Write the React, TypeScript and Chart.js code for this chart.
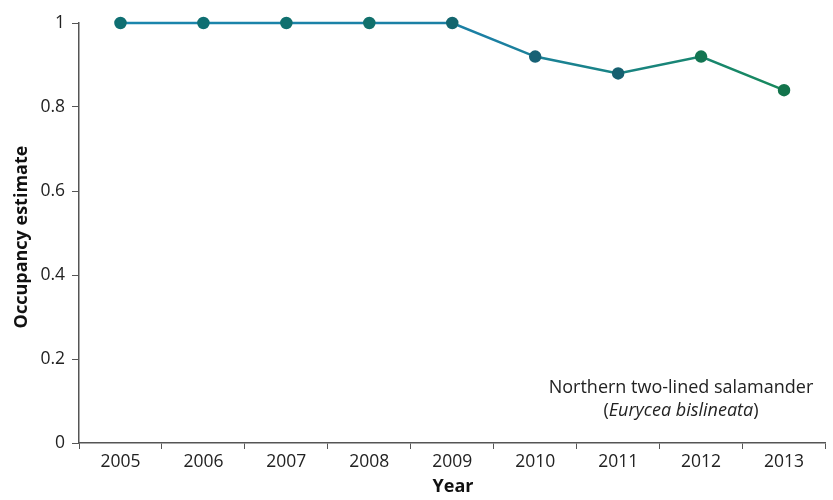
import React, { useEffect, useRef } from "react";
import { Chart, registerables } from "chart.js";

Chart.register(...registerables);

const years = ["2005", "2006", "2007", "2008", "2009", "2010", "2011", "2012", "2013"];
const occupancy = [1, 1, 1, 1, 1, 0.92, 0.88, 0.92, 0.84];
const yTicks = [0, 0.2, 0.4, 0.6, 0.8, 1];
const yTitle = "Occupancy estimate";
const xTitle = "Year";
const noteLine1 = "Northern two-lined salamander";
const noteLatin = "Eurycea bislineata";

const FONT = "'Open Sans', 'DejaVu Sans', sans-serif";

const textPlugin = {
  id: "textPlugin",
  afterDraw(chart: any) {
    const ctx = chart.ctx;
    const area = chart.chartArea;
    ctx.save();
    ctx.fillStyle = "#111";
    ctx.font = `bold 18px ${FONT}`;
    ctx.textAlign = "center";
    ctx.textBaseline = "middle";
    ctx.save();
    ctx.translate(22, (area.top + area.bottom) / 2 + 4);
    ctx.rotate(-Math.PI / 2);
    ctx.fillText(yTitle, 0, 0);
    ctx.restore();
    ctx.fillText(xTitle, 453, 487);
    ctx.fillStyle = "#222";
    ctx.font = `18px ${FONT}`;
    ctx.fillText(noteLine1, 681, 388);
    ctx.font = `italic 18px ${FONT}`;
    const w = ctx.measureText(noteLatin).width;
    ctx.font = `18px ${FONT}`;
    const wp = ctx.measureText("(").width;
    const wq = ctx.measureText(")").width;
    const x0 = 681 - (w + wp + wq) / 2;
    ctx.textAlign = "left";
    ctx.fillText("(", x0, 411);
    ctx.font = `italic 18px ${FONT}`;
    ctx.fillText(noteLatin, x0 + wp, 411);
    ctx.font = `18px ${FONT}`;
    ctx.fillText(")", x0 + wp + w, 411);
    ctx.restore();
  },
};

export default function App() {
  const ref = useRef<HTMLCanvasElement>(null);
  useEffect(() => {
    document.body.style.margin = "0";
    const canvas = ref.current!;
    const ctx = canvas.getContext("2d")!;
    const grad = ctx.createLinearGradient(120, 0, 790, 0);
    grad.addColorStop(0, "#1a86ad");
    grad.addColorStop(0.55, "#1b7fa3");
    grad.addColorStop(1, "#17895a");
    const pointColors = ["#0f6f72", "#0f6f72", "#10706f", "#11706c", "#14666f", "#176175", "#166070", "#137552", "#13744c"];
    const chart = new Chart(canvas, {
      type: "line",
      data: {
        labels: years,
        datasets: [
          {
            data: occupancy,
            borderColor: grad,
            borderWidth: 2.5,
            pointBackgroundColor: pointColors,
            pointBorderColor: pointColors,
            pointRadius: 5,
            pointHoverRadius: 5,
            tension: 0,
            clip: false as any,
          },
        ],
      },
      options: {
        animation: false,
        responsive: false,
        layout: { padding: { top: 23, right: 5, left: 0, bottom: 0 } },
        plugins: { legend: { display: false }, tooltip: { enabled: false } },
        scales: {
          x: {
            type: "category",
            offset: true,
            grid: {
              offset: true,
              drawOnChartArea: false,
              drawTicks: true,
              tickLength: 6,
              color: "#555",
              lineWidth: 1,
            },
            border: { display: true, color: "#555", width: 1.5 },
            ticks: { font: { family: FONT, size: 17.5 }, color: "#222", padding: 3, maxRotation: 0 },
            afterFit(scale: any) {
              scale.height = 57;
            },
          },
          y: {
            min: 0,
            max: 1,
            afterBuildTicks(scale: any) {
              scale.ticks = yTicks.map((v) => ({ value: v }));
            },
            grid: {
              drawOnChartArea: false,
              drawTicks: true,
              tickLength: 7,
              color: "#555",
            },
            border: { display: true, color: "#555", width: 1.5 },
            ticks: {
              font: { family: FONT, size: 17.5 },
              color: "#222",
              padding: 7,
              callback: (v: any) => String(Number(v)),
            },
            afterFit(scale: any) {
              scale.width = 79;
            },
          },
        },
      },
      plugins: [textPlugin],
    });
    return () => chart.destroy();
  }, []);
  return (
    <div style={{ position: "absolute", left: 0, top: 0, width: 833, height: 500, background: "#fff" }}>
      <canvas ref={ref} width={833} height={500} />
    </div>
  );
}
